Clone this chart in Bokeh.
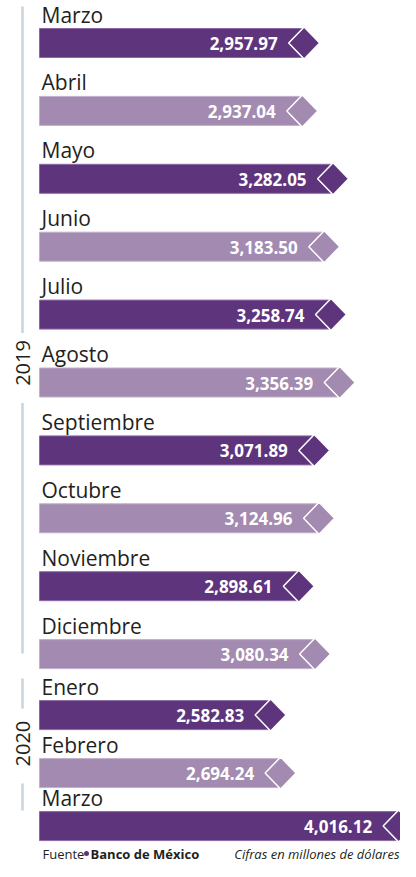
import math
from bokeh.plotting import figure
from bokeh.models import Range1d, ColumnDataSource
from bokeh.core.properties import value
from bokeh.embed import file_html
from bokeh.resources import INLINE

# ---- data ----
months = ["Marzo", "Abril", "Mayo", "Junio", "Julio", "Agosto", "Septiembre",
          "Octubre", "Noviembre", "Diciembre", "Enero", "Febrero", "Marzo"]
years = ["2019"] * 10 + ["2020"] * 3
values = [2957.97, 2937.04, 3282.05, 3183.50, 3258.74, 3356.39, 3071.89,
          3124.96, 2898.61, 3080.34, 2582.83, 2694.24, 4016.12]
source_label = "Banco de México"
note_label = "Cifras en millones de dólares"

# ---- layout (pixels) ----
W, H = 400, 861
K = 0.0893            # px per unit
X0 = 39               # px of value 0
DARK = "#5e347c"
LIGHT = "#a38ab0"
DARK_EDGE = "#8d6aa6"
LIGHT_EDGE = "#c2b0cc"
LINE_COL = "#c8d3dc"
FONT = "Open Sans"

def px(dx):
    return dx / K

def Y(y_down):
    return H - y_down

pitches = [67.9] * 9 + [61, 58, 53]
tops = [28.0]
for p_ in pitches:
    tops.append(tops[-1] + p_)
BAR_H = 29.0

p = figure(width=W, height=H, output_backend="svg", toolbar_location=None,
           x_range=Range1d(-X0 / K, (W - X0) / K), y_range=Range1d(0, H),
           min_border=0)
p.axis.visible = False
p.grid.visible = False
p.outline_line_color = None
p.background_fill_color = "white"

bar_xs, bar_ys, dia_xs, dia_ys, fills, edges = [], [], [], [], [], []
val_x, val_y, val_t = [], [], []
lab_y = []
for i, v in enumerate(values):
    t = tops[i]
    b = t + BAR_H
    m = (t + b) / 2
    bar_xs.append([0, v, v, 0])
    bar_ys.append([Y(t), Y(t), Y(b), Y(b)])
    dia_xs.append([v - px(15), v + px(0.5), v + px(16), v + px(0.5)])
    dia_ys.append([Y(m), Y(t - 1.5), Y(m), Y(b + 1.5)])
    fills.append(DARK if i % 2 == 0 else LIGHT)
    edges.append(DARK_EDGE if i % 2 == 0 else LIGHT_EDGE)
    val_x.append(v)
    val_y.append(Y(m + 0.5))
    val_t.append(f"{v:,.2f}")
    lab_y.append(Y(t - 14))

src = ColumnDataSource(dict(xs=bar_xs, ys=bar_ys, fill=fills, edge=edges))
p.patches("xs", "ys", source=src, fill_color="fill", line_color="edge", line_width=1)
dsrc = ColumnDataSource(dict(xs=dia_xs, ys=dia_ys, fill=fills))
p.patches("xs", "ys", source=dsrc, fill_color="fill", line_color="white", line_width=1.5)

p.text(x=val_x, y=val_y, text=val_t, text_align="right", text_baseline="middle",
       x_offset=-26, text_color="white", text_font=value(FONT),
       text_font_style="bold", text_font_size="17px")

p.text(x=[0] * len(months), y=lab_y, text=months, text_align="left",
       text_baseline="alphabetic", x_offset=2, text_color="#231f20",
       text_font=value(FONT), text_font_size="21px")

# ---- year brackets ----
xl = px(-17)
groups = {}
for i, yr in enumerate(years):
    groups.setdefault(yr, []).append(i)

def seg(y1, y2):
    p.segment(x0=[xl], y0=[Y(y1)], x1=[xl], y1=[Y(y2)], line_color=LINE_COL,
              line_width=2.5)

# 2019
g = groups["2019"]
c19 = tops[5] - 5
seg(tops[g[0]] - 22, c19 - 30)
seg(c19 + 40, tops[g[-1]] + 14)
# 2020
g2 = groups["2020"]
c20 = tops[11] - 15
seg(tops[g2[0]] - 22, c20 - 35)
seg(c20 + 40, tops[g2[-1]] - 1)

p.text(x=[xl, xl], y=[Y(c19), Y(c20)], text=["2019", "2020"], angle=math.pi / 2,
       text_align="center", text_baseline="middle", text_color="#231f20",
       text_font=value(FONT), text_font_size="20px")

# ---- footer ----
fy = Y(853)
p.text(x=[0], y=[fy], text=["Fuente"], x_offset=3, text_baseline="middle",
       text_font=value(FONT), text_font_size="13px", text_color="#231f20")
p.scatter(x=[px(47)], y=[fy], marker="circle", size=5, fill_color=DARK,
          line_color=None)
p.text(x=[0], y=[fy], text=[source_label], x_offset=51, text_baseline="middle",
       text_font=value(FONT), text_font_size="13px", text_font_style="bold",
       text_color="#231f20")
p.text(x=[px(W - X0)], y=[fy], text=[note_label], text_align="right",
       x_offset=-1, text_baseline="middle", text_font=value(FONT),
       text_font_size="13px", text_font_style="italic", text_color="#231f20")

open("out.html", "w").write(file_html(p, INLINE))
